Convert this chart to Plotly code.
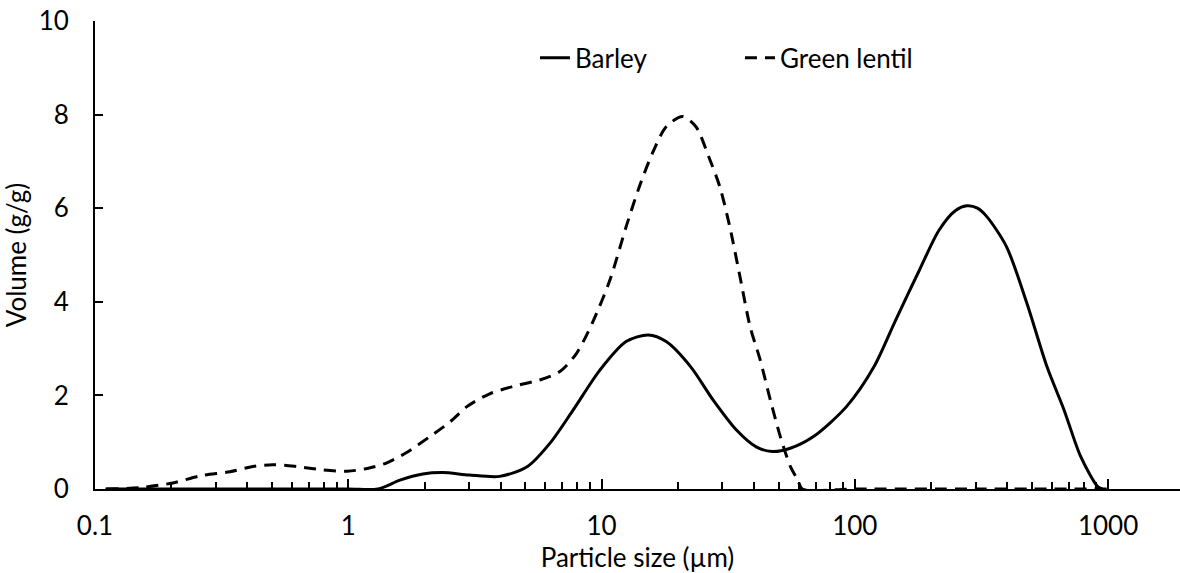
import plotly.graph_objects as go
import numpy as np

# Particle size (µm) and volume (g/g)
barley_x = [0.11, 0.5, 1.0, 1.31, 1.6, 1.97, 2.36, 3.0, 3.96, 5.1, 6.26, 7.73, 9.85, 12.5, 15.3,
            18.0, 22.5, 27.6, 34.1, 40.8, 47.2, 55.6, 68.7, 92.7, 119, 145, 180, 215, 250, 277,
            305, 332, 397, 478, 574, 670, 780, 910, 950]
barley_y = [0, 0, 0, 0, 0.19, 0.32, 0.35, 0.30, 0.27, 0.48, 0.98, 1.69, 2.54, 3.15, 3.29,
            3.15, 2.61, 1.90, 1.26, 0.90, 0.80, 0.87, 1.12, 1.76, 2.61, 3.61, 4.68, 5.53, 5.95, 6.05,
            6.0, 5.82, 5.18, 3.97, 2.61, 1.69, 0.69, 0.05, 0]

lentil_x = [0.111, 0.151, 0.203, 0.26, 0.341, 0.42, 0.504, 0.626, 0.79, 0.99, 1.19, 1.42, 1.7,
            2.1, 2.53, 2.94, 3.6, 4.46, 5.7, 6.85, 7.97, 9.2, 10.8, 12.5, 14.1, 15.9, 18.0,
            20.9, 23.6, 26.5, 29.3, 32.1, 35.2, 38.6, 42.3, 46.4, 50.8, 55.7, 59.6, 62,
            100, 300, 1000]
lentil_y = [0, 0.03, 0.13, 0.28, 0.37, 0.48, 0.52, 0.48, 0.41, 0.38, 0.44, 0.56, 0.78,
            1.12, 1.44, 1.76, 2.03, 2.19, 2.33, 2.51, 2.9, 3.55, 4.47, 5.6, 6.46, 7.18, 7.74,
            7.96, 7.74, 7.1, 6.46, 5.6, 4.54, 3.47, 2.76, 1.90, 1.12, 0.48, 0.19, 0,
            0, 0, 0]

x_tickvals = [0.1, 1, 10, 100, 1000]
x_ticktext = ["0.1", "1", "10", "100", "1000"]
y_tickvals = [0, 2, 4, 6, 8, 10]

FONT = "Lato"
FS = 26

fig = go.Figure()
fig.add_trace(go.Scatter(x=barley_x, y=barley_y, mode="lines", name="Barley",
                         line=dict(color="black", width=3, shape="spline", smoothing=0.8)))
fig.add_trace(go.Scatter(x=lentil_x, y=lentil_y, mode="lines", name="Green lentil",
                         line=dict(color="black", width=3, dash="12px,8px", shape="spline", smoothing=0.8)))

fig.update_layout(
    width=1180, height=573,
    margin=dict(l=95, r=0, t=21, b=84),
    plot_bgcolor="white", paper_bgcolor="white",
    font=dict(family=FONT, size=FS, color="black"),
    showlegend=True,
    legend=dict(orientation="h", x=0.4055, y=0.921, xanchor="left", yanchor="middle",
                font=dict(size=FS), entrywidth=160, bgcolor="rgba(0,0,0,0)"),
    xaxis=dict(type="log", range=[-1, np.log10(1923)], tickvals=x_tickvals, ticktext=x_ticktext,
               ticks="inside", ticklen=10, tickwidth=2, tickcolor="black",
               showline=True, linecolor="black", linewidth=2, showgrid=False, zeroline=False,
               ticklabelstandoff=13,
               minor=dict(ticks="inside", ticklen=7, tickwidth=1.5, tickcolor="black",
                          dtick="D1", showgrid=False),
               title=dict(text="Particle size (µm)", standoff=6, font=dict(size=FS))),
    yaxis=dict(range=[0, 10], tickvals=y_tickvals, ticks="inside", ticklen=8, tickwidth=2,
               tickcolor="black", showline=True, linecolor="black", linewidth=2,
               showgrid=False, zeroline=False, ticklabelstandoff=19,
               title=dict(text="Volume (g/g)", standoff=12, font=dict(size=FS))),
)

fig.write_html("out.html")
